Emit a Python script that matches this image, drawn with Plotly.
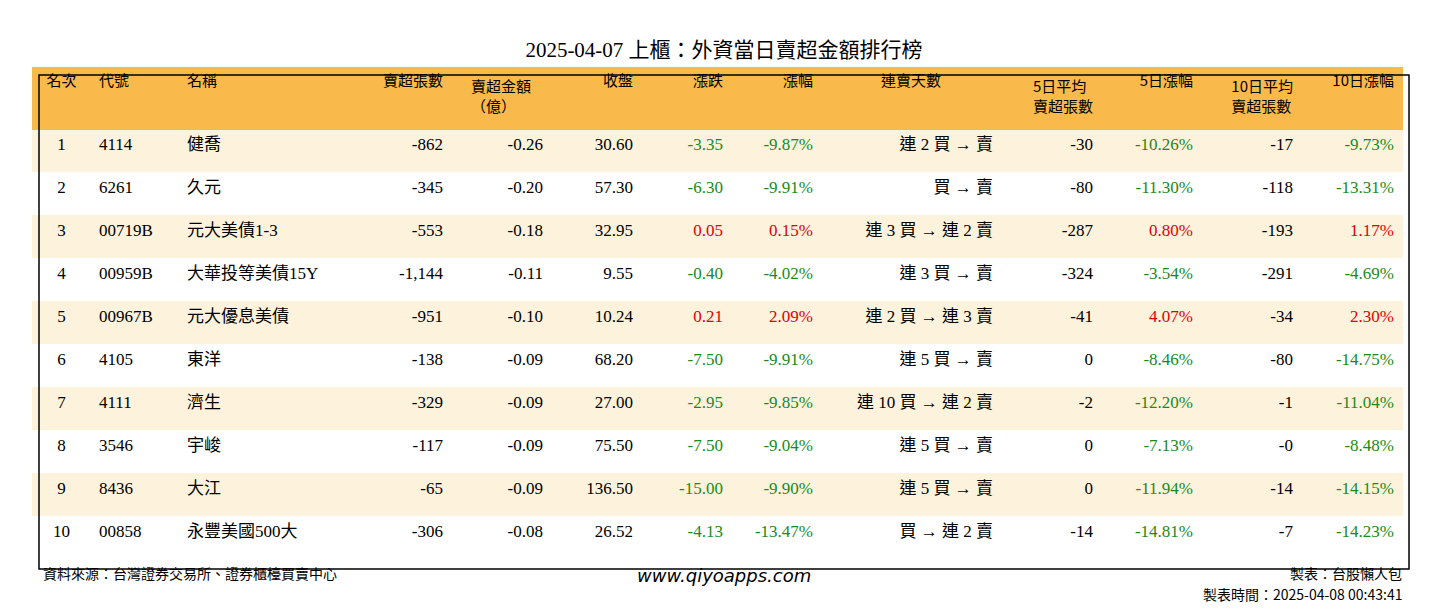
import plotly.graph_objects as go

rank = [str(i) for i in range(1, 11)]
code = ["4114", "6261", "00719B", "00959B", "00967B", "4105", "4111", "3546", "8436", "00858"]
name = ["健喬", "久元", "元大美債1-3", "大華投等美債15Y", "元大優息美債", "東洋", "濟生", "宇峻", "大江", "永豐美國500大"]
sell_qty = ["-862", "-345", "-553", "-1,144", "-951", "-138", "-329", "-117", "-65", "-306"]
sell_amt = ["-0.26", "-0.20", "-0.18", "-0.11", "-0.10", "-0.09", "-0.09", "-0.09", "-0.09", "-0.08"]
close = ["30.60", "57.30", "32.95", "9.55", "10.24", "68.20", "27.00", "75.50", "136.50", "26.52"]
change = [-3.35, -6.30, 0.05, -0.40, 0.21, -7.50, -2.95, -7.50, -15.00, -4.13]
pct = [-9.87, -9.91, 0.15, -4.02, 2.09, -9.91, -9.85, -9.04, -9.90, -13.47]
streak = ["連 2 買 → 賣", "買 → 賣", "連 3 買 → 連 2 賣", "連 3 買 → 賣", "連 2 買 → 連 3 賣",
          "連 5 買 → 賣", "連 10 買 → 連 2 賣", "連 5 買 → 賣", "連 5 買 → 賣", "買 → 連 2 賣"]
avg5 = ["-30", "-80", "-287", "-324", "-41", "0", "-2", "0", "0", "-14"]
pct5 = [-10.26, -11.30, 0.80, -3.54, 4.07, -8.46, -12.20, -7.13, -11.94, -14.81]
avg10 = ["-17", "-118", "-193", "-291", "-34", "-80", "-1", "-0", "-14", "-7"]
pct10 = [-9.73, -13.31, 1.17, -4.69, 2.30, -14.75, -11.04, -8.48, -14.15, -14.23]

headers = ["名次", "代號", "名稱", "賣超張數", "賣超金額<br>（億）", "收盤", "漲跌", "漲幅", "連賣天數",
           "5日平均<br>賣超張數", "5日漲幅", "10日平均<br>賣超張數", "10日漲幅"]
widths = [59, 88, 172, 100, 100, 90, 90, 90, 180, 100, 100, 100, 101]

GREEN, RED, BLACK = "#1a8a1a", "#e00000", "black"
def col(vals):
    return [GREEN if v < 0 else RED for v in vals]

columns = [rank, code, name, sell_qty, sell_amt, close,
           [f"{v:.2f}" for v in change], [f"{v:.2f}%" for v in pct], streak,
           avg5, [f"{v:.2f}%" for v in pct5], avg10, [f"{v:.2f}%" for v in pct10]]
fcolors = [[BLACK] * 10] * 6 + [col(change), col(pct), [BLACK] * 10, [BLACK] * 10,
                                col(pct5), [BLACK] * 10, col(pct10)]
rowfill = ["#fdf2dc" if i % 2 == 0 else "white" for i in range(10)]
aligns = ["center", "left", "left"] + ["right"] * 10
haligns = ["center", "left", "left", "right", "center", "right", "right", "right", "center",
           "right", "right", "right", "right"]

FONT = "Liberation Serif, Noto Sans CJK TC"
fig = go.Figure(go.Table(
    domain=dict(x=[24 / 1432, 1394 / 1432], y=[0.083, 1 - 59 / 612]),
    columnwidth=widths,
    header=dict(values=headers, fill_color="#f9b94b", line_color="#f9b94b", height=62,
                align=haligns, font=dict(family="Noto Sans CJK TC", size=15, color="black")),
    cells=dict(values=columns, fill_color=[rowfill] * 13, line_color=[rowfill] * 13, height=43,
               align=aligns, font=dict(family=FONT, size=17, color=fcolors)),
))
fig.add_shape(type="rect", xref="paper", yref="paper", x0=31 / 1432, x1=1401 / 1432,
              y0=1 - 561 / 612, y1=1 - 67 / 612, line=dict(color="black", width=1.5))
fig.update_layout(
    width=1432, height=612, margin=dict(l=0, r=0, t=0, b=0), paper_bgcolor="white",
    title=dict(text="2025-04-07 上櫃：外資當日賣超金額排行榜", x=0.5, y=1 - 42 / 612,
               xanchor="center", yanchor="middle",
               font=dict(family=FONT, size=21, color="black")),
    annotations=[
        dict(text="資料來源：台灣證券交易所、證券櫃檯買賣中心", x=33 / 1432, y=1 - 577 / 612,
             xref="paper", yref="paper", xanchor="left", showarrow=False,
             font=dict(family="Noto Sans CJK TC", size=14, color="black")),
        dict(text="<i>www.qiyoapps.com</i>", x=0.5, y=1 - 580 / 612, xref="paper", yref="paper",
             showarrow=False, font=dict(family="DejaVu Sans", size=18, color="black")),
        dict(text="製表：台股懶人包", x=1396 / 1432, y=1 - 577 / 612, xref="paper", yref="paper",
             xanchor="right", showarrow=False,
             font=dict(family="Noto Sans CJK TC", size=14, color="black")),
        dict(text="製表時間：2025-04-08 00:43:41", x=1396 / 1432, y=1 - 598 / 612, xref="paper",
             yref="paper", xanchor="right", showarrow=False,
             font=dict(family="Noto Sans CJK TC", size=14, color="black")),
    ],
)
fig.write_html("out.html")
